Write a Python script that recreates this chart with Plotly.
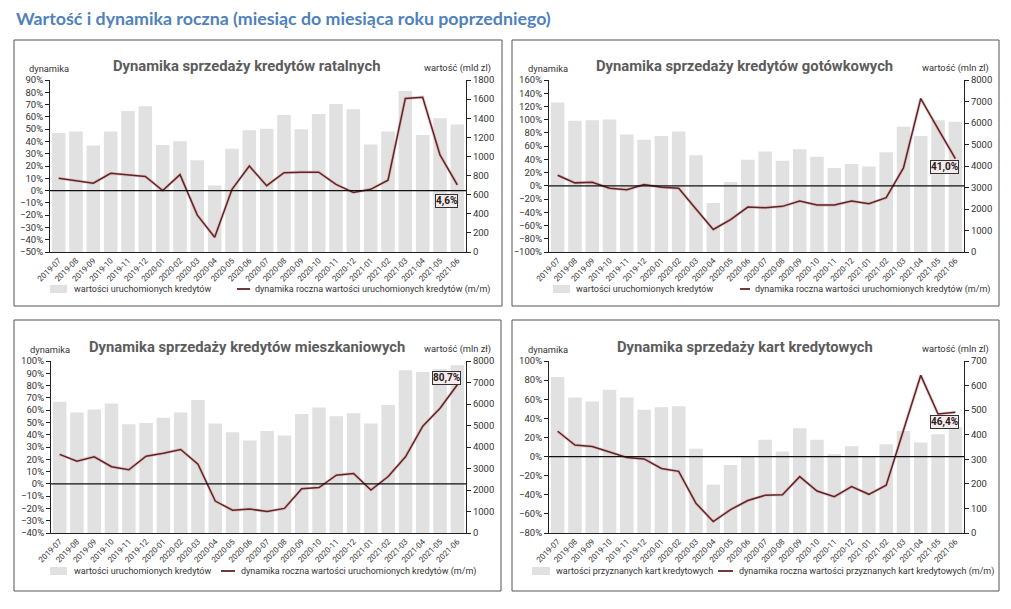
import plotly.graph_objects as go

OFF = 8                    # page body margin of the browser
W, H = 1011 - OFF, 609 - 2 * OFF

months = ["2019-07", "2019-08", "2019-09", "2019-10", "2019-11", "2019-12",
          "2020-01", "2020-02", "2020-03", "2020-04", "2020-05", "2020-06",
          "2020-07", "2020-08", "2020-09", "2020-10", "2020-11", "2020-12",
          "2021-01", "2021-02", "2021-03", "2021-04", "2021-05", "2021-06"]

ratalne_wart = [1245, 1260, 1115, 1260, 1475, 1525, 1120, 1160, 960, 695, 1080, 1275,
                1290, 1435, 1285, 1445, 1550, 1495, 1125, 1260, 1685, 1225, 1400, 1335]
ratalne_dyn = [10, 8, 6, 14, 13, 11.5, 0, 13, -20, -38, 1, 20,
               4, 14.5, 15, 15, 5, -1.5, 1, 8.5, 75, 76, 29, 4.6]

gotowkowe_wart = [6950, 6100, 6130, 6160, 5470, 5220, 5390, 5600, 4500, 2280, 3260, 4290,
                  4670, 4240, 4780, 4430, 3910, 4090, 3980, 4640, 5820, 5390, 6130, 6060]
gotowkowe_dyn = [16, 4.5, 5.5, -3.5, -6, 2, -2, -3.5, -35, -66, -51, -32,
                 -33, -31, -23, -29, -29, -23, -27, -18, 27, 132, 86, 41.0]

mieszkaniowe_wart = [6100, 5600, 5740, 6020, 5060, 5120, 5360, 5600, 6190, 5090, 4690, 4300,
                     4750, 4540, 5530, 5840, 5430, 5570, 5090, 5950, 7570, 7490, 7620, 7800]
mieszkaniowe_dyn = [24, 18.5, 22, 14, 11.5, 22.5, 25, 28, 16, -14, -21.5, -20.5,
                    -22.5, -20, -4, -3, 7, 8.5, -5, 6, 22, 47, 61.5, 80.7]

karty_wart = [635, 551, 535, 583, 551, 502, 512, 516, 343, 197, 277, 309,
              380, 332, 426, 380, 320, 353, 309, 361, 415, 368, 402, 430]
karty_dyn = [26.5, 12, 10.5, 5, -1, -2.5, -12.5, -15.5, -49, -68, -55.5, -46,
             -40.5, -40, -21, -36, -42, -31.5, -39.5, -30, 26.5, 85, 44.5, 46.4]

main_title = "Wartość i dynamika roczna (miesiąc do miesiąca roku poprzedniego)"
titles = ["Dynamika sprzedaży kredytów ratalnych",
          "Dynamika sprzedaży kredytów gotówkowych",
          "Dynamika sprzedaży kredytów mieszkaniowych",
          "Dynamika sprzedaży kart kredytowych"]
right_titles = ["wartość (mld zl)", "wartość (mln zl)", "wartość (mln zł)", "wartość (mln zl)"]
bar_names = ["wartości uruchomionych kredytów"] * 3 + ["wartości przyznanych kart kredytowych"]
line_names = ["dynamika roczna wartości uruchomionych kredytów (m/m)"] * 3 + \
             ["dynamika roczna wartości przyznanych kart kredytowych (m/m)"]
end_labels = ["4,6%", "41,0%", "80,7%", "46,4%"]

values = [ratalne_wart, gotowkowe_wart, mieszkaniowe_wart, karty_wart]
dynamics = [ratalne_dyn, gotowkowe_dyn, mieszkaniowe_dyn, karty_dyn]
left_ranges = [(-50, 90, 10), (-100, 160, 20), (-40, 100, 10), (-80, 100, 20)]
right_ranges = [(0, 1800, 200), (0, 8000, 1000), (0, 8000, 1000), (0, 700, 100)]

# layout geometry (page pixels)
plot_x = [(50, 466), (549, 964), (51, 466), (549, 964)]
plot_y = [(80, 252), (80, 252), (361, 533), (361, 533)]
boxes = [(14, 40, 502, 306), (512, 40, 999, 306), (14, 320, 501, 591), (512, 320, 999, 591)]
label_y = [-8.5, 28.5, 86, 36]
# legend: bar swatch x0, x1, text x, line swatch x0, x1, text x, y
legend_geo = [(50, 67, 72, 237, 250, 253, 289),
              (553, 570, 574, 740, 750, 753, 289),
              (50, 67, 72, 221, 235, 239, 571),
              (532, 550, 554, 718, 733, 737, 571)]

BAR_COL = "#e1e1e1"
LINE_COL = "#5e2426"
FONT = "Roboto"
TXT = "#333"


def px(x):
    return (x - OFF) / W


def py(y):
    return 1 - (y - OFF) / H


fig = go.Figure()
annotations = []
shapes = []
layout = {}

for i in range(4):
    k = i + 1
    xa = "x" if k == 1 else f"x{k}"
    ya_v = "y" if k == 1 else f"y{2 * k - 1}"
    ya_d = f"y{2 * k}"

    fig.add_trace(go.Bar(x=months, y=values[i], name=bar_names[i], marker_color=BAR_COL,
                         marker_line_width=0, xaxis=xa, yaxis=ya_v, showlegend=False))
    fig.add_trace(go.Scatter(x=months, y=dynamics[i], mode="lines", showlegend=False,
                             line=dict(color="rgba(220,150,150,0.45)", width=3.2),
                             xaxis=xa, yaxis=ya_d, hoverinfo="skip"))
    fig.add_trace(go.Scatter(x=months, y=dynamics[i], name=line_names[i], mode="lines",
                             line=dict(color=LINE_COL, width=1.5),
                             xaxis=xa, yaxis=ya_d, showlegend=False))

    x0, x1 = plot_x[i]
    y0, y1 = plot_y[i]
    xkey = "xaxis" if k == 1 else f"xaxis{k}"
    yvkey = "yaxis" if k == 1 else f"yaxis{2 * k - 1}"
    ydkey = f"yaxis{2 * k}"
    layout[xkey] = dict(domain=[px(x0), px(x1)], anchor=ya_v, type="category",
                        tickangle=-45, tickfont=dict(size=8, color=TXT, family=FONT),
                        showline=True, linecolor="#222", linewidth=1, ticks="",
                        showgrid=False, zeroline=False, fixedrange=True, automargin=False)
    lo, hi, st = right_ranges[i]
    layout[yvkey] = dict(domain=[py(y1), py(y0)], anchor=xa, side="right", range=[lo, hi],
                         dtick=st, tick0=0, showgrid=False, zeroline=False,
                         showline=True, linecolor="#222", linewidth=1,
                         ticks="outside", ticklen=4, tickcolor="#222", automargin=False,
                         tickfont=dict(size=9.5, color=TXT, family=FONT))
    lo, hi, st = left_ranges[i]
    layout[ydkey] = dict(overlaying=ya_v, anchor=xa, side="left", range=[lo, hi],
                         dtick=st, tick0=0, ticksuffix="%", showgrid=False,
                         zeroline=False, automargin=False,
                         showline=True, linecolor="#222", linewidth=1,
                         ticks="outside", ticklen=4, tickcolor="#222",
                         tickfont=dict(size=9.5, color=TXT, family=FONT))

    # zero line on the dynamics axis, above the bars
    shapes.append(dict(type="line", xref=f"{xa} domain", yref=ya_d, x0=0, x1=1, y0=0, y1=0,
                       line=dict(color="#111", width=1.2), layer="above"))

    bx0, by0, bx1, by1 = boxes[i]
    shapes.append(dict(type="rect", xref="paper", yref="paper", x0=px(bx0), x1=px(bx1),
                       y0=py(by1), y1=py(by0), line=dict(color="#555", width=1)))

    # manual legend
    sb0, sb1, tb, sl0, sl1, tl, ly = legend_geo[i]
    shapes.append(dict(type="rect", xref="paper", yref="paper", x0=px(sb0), x1=px(sb1),
                       y0=py(ly + 4), y1=py(ly - 4), fillcolor=BAR_COL, line=dict(width=0)))
    shapes.append(dict(type="line", xref="paper", yref="paper", x0=px(sl0), x1=px(sl1),
                       y0=py(ly), y1=py(ly), line=dict(color=LINE_COL, width=1.8)))
    annotations.append(dict(text=bar_names[i], xref="paper", yref="paper", x=px(tb), y=py(ly),
                            showarrow=False, xanchor="left", yanchor="middle",
                            font=dict(size=9, color=TXT, family=FONT)))
    annotations.append(dict(text=line_names[i], xref="paper", yref="paper", x=px(tl), y=py(ly),
                            showarrow=False, xanchor="left", yanchor="middle",
                            font=dict(size=9, color=TXT, family=FONT)))

    tcy = y0 - 14
    annotations.append(dict(text=f"<b>{titles[i]}</b>", xref="paper", yref="paper",
                            x=px((x0 + x1) / 2 - 12), y=py(tcy), showarrow=False,
                            font=dict(size=14.8, color="#5c5c5c", family=FONT),
                            xanchor="center", yanchor="middle"))
    annotations.append(dict(text="dynamika", xref="paper", yref="paper",
                            x=px(x0 - 23), y=py(tcy + 2), showarrow=False,
                            font=dict(size=9.3, color=TXT, family=FONT),
                            xanchor="left", yanchor="middle"))
    annotations.append(dict(text=right_titles[i], xref="paper", yref="paper",
                            x=px(x1 + 27), y=py(tcy + 2), showarrow=False,
                            font=dict(size=9.3, color=TXT, family=FONT),
                            xanchor="right", yanchor="middle"))
    annotations.append(dict(text=f"<b>{end_labels[i]}</b>", xref=xa, yref=ya_d,
                            x=months[-1], y=label_y[i], xshift=-11, showarrow=False,
                            font=dict(size=10, color="#222", family=FONT),
                            bgcolor="#f8eaea", bordercolor="#333", borderwidth=1, borderpad=0,
                            xanchor="center", yanchor="middle"))

annotations.append(dict(text=f"<b>{main_title}</b>", xref="paper", yref="paper",
                        x=px(14), y=py(18), showarrow=False, xanchor="left", yanchor="middle",
                        font=dict(size=17.8, color="#4f81bd", family="Lato")))

fig.update_layout(**layout)
fig.update_layout(width=W, height=H, autosize=False, margin=dict(l=0, r=0, t=0, b=0),
                  paper_bgcolor="white", plot_bgcolor="white", bargap=0.22, showlegend=False,
                  annotations=annotations, shapes=shapes, hovermode=False)

fig.write_html("out.html")
